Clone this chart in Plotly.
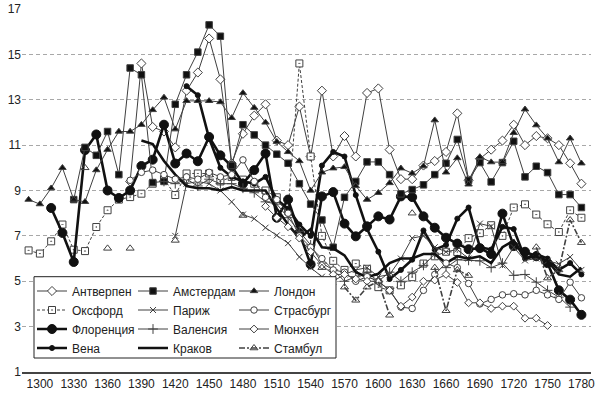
import plotly.graph_objects as go

N = None
years = list(range(1290, 1790, 10))
tick_years = list(range(1300, 1790, 30))
y_ticks = [1, 3, 5, 7, 9, 11, 13, 15, 17]

antwerp = [N]*9 + [9.4, 14.6, 11.8, 11.6, 10.9, 13.4, 14.2, 15.7, 13.9, 10.2,
                   11.5, 12.3, 12.8, 11.2, 11.0, 12.7, 10.5, 13.4, 10.5, 11.4,
                   10.5, 13.3, 13.5, 10.8, 9.5, 9.5, 10.1, 10.3, 10.7, 12.4,
                   9.45, 10.4, 10.8, 11.2, 11.9, 11.0, 11.4, 11.3, 11.0, 10.2, 9.3]
amsterdam = [N]*4 + [8.6, 10.9, 10.55, 11.6, 9.7, 14.4, 14.1, 9.35, 9.4, 12.8,
                     14.1, 15.1, 16.3, 15.8, 10.1, 11.9, 11.45, 11.0, 10.6, 10.2,
                     9.3, 8.4, 7.7, 6.5, 8.7, 9.4, 10.26, 10.26, 9.7, 8.85,
                     9.04, 9.25, 9.7, 10.2, 11.25, 9.45, 10.23, 9.38, 10.23, 11.17,
                     9.6, 10.07, 9.79, 8.82, 8.82, 8.25]
london = [8.6, 8.4, 9.1, 10.0, 8.6, 8.5, 9.9, 10.8, 11.6, 11.6,
          11.9, 12.55, 13.1, 11.7, 12.95, 12.95, 12.95, 12.9, 12.2, 13.3,
          12.65, 12.0, 11.15, 10.7, 10.3, 9.0, 9.8, 9.98, 10.04, 9.2,
          8.6, 8.9, 9.33, 9.98, 9.76, 10.07, 12.1, 9.8, 10.43, 9.27,
          10.48, 10.25, 10.25, 11.54, 12.58, 11.88, 11.3, 10.25, 11.3, 10.2]
oxford = [6.36, 6.22, 6.76, 7.5, 6.39, 6.33, 7.39, 8.13, 8.6, 8.71,
          8.86, 9.3, 9.5, 8.8, 9.75, 9.75, 9.75, 9.4, 9.6, 9.48,
          9.3, 9.0, 8.7, 8.1, 14.6, 10.5, 7.0, 5.9, 5.5, 5.78,
          5.55, 4.74, 4.6, 4.82, 5.18, 5.78, 6.1, 6.3, 6.29, 6.9,
          7.12, 7.47, 7.0, 8.25, 8.39, 7.94, 7.51, 7.17, 8.13, 7.8]
paris = [N]*13 + [7.0, 9.3, 9.4, 9.3, 9.0, 8.5, 7.94, 7.76, 7.36, 7.02,
                  6.68, 6.07, 5.6, 5.2, 5.0, 5.3, 5.5, 5.6, 5.2, 5.3,
                  6.0, 6.9, 7.0, 6.5, 6.3, 6.4, 6.0, 7.54, 7.42, 5.7,
                  6.5, 5.92, 6.0, 5.9, 5.77, 6.07, 5.5]
strasbourg = [N]*9 + [9.45, 9.8, 9.9, 9.7, 9.5, 9.6, 9.5, 9.8, 9.6, 9.7,
                      10.35, 9.4, 8.7, 8.6, 8.0, 7.0, 6.5, 6.0, 5.5, 5.4,
                      5.0, 5.2, 5.0, 4.6, 3.86, 3.8, 4.6, 5.3, 5.8, 5.6,
                      4.9, 4.0, 4.2, 4.4, 4.45, 4.4, 4.6, 4.4, 4.2, 4.96, 4.27]
florence = [N]*2 + [8.23, 7.13, 5.85, 10.78, 11.47, 9.0, 8.67, 9.0, 10.08, 10.36,
                    11.9, 10.19, 10.63, 10.29, 11.36, 10.55, 10.08, 9.3, 9.9, 10.63,
                    7.8, 8.6, 7.13, 5.74, 8.74, 8.93, 7.54, 6.98, 7.42, 7.86,
                    7.72, 8.74, 8.71, 7.86, 7.36, 6.92, 6.66, 6.41, 6.46, 6.2,
                    7.98, 6.55, 6.3, 6.1, 5.8, 4.6, 4.19, 3.52]
valencia = [N]*12 + [9.4, 9.3, 9.5, 9.2, 9.5, 9.3, 9.3, 9.1, 8.9, 8.5,
                     8.4, 7.8, 7.2, 6.6, 5.8, 5.5, 5.0, 5.2, 5.4, 5.0,
                     5.4, 5.0, 5.4, 5.7, 6.2, 5.6, 5.95, 5.92, 5.9, 5.6,
                     5.8, 5.26, 5.3, 4.96, 4.6, 4.3, 3.86] + [N]
munich = [N]*21 + [8.3, 7.8, 7.4, 6.9, 6.3, 5.7, 5.3, 5.3, 5.1, 5.0,
                   5.0, 4.6, 3.9, 4.3, 5.0, 5.05, 5.3, 4.95, 4.05, 4.05,
                   3.8, 3.9, 3.9, 3.37, 3.37, 3.05] + [N]*3
vienna = [N]*14 + [13.6, 13.2, 11.3, 10.0, 9.6, 9.4, 9.3, 9.6, 8.6, 8.2,
                   7.5, 7.0, 10.1, 10.7, 10.5, 8.8, 7.3, 6.3, 5.1, 5.5,
                   5.95, 7.24, 6.39, 6.6, 7.76, 8.25, 6.5, 6.4, 7.4, 7.3,
                   6.0, 6.2, 6.0, 5.5, 5.8, 5.3]
krakow = [N]*10 + [11.2, 11.05, 10.3, 9.7, 9.2, 9.1, 9.1, 9.0, 9.15, 9.0,
                   9.0, 9.0, 8.2, 7.5, 6.9, 7.3, 6.5, 6.45, 6.14, 5.4,
                   5.18, 5.33, 5.8, 6.0, 6.0, 6.2, 6.2, 5.8, 6.1, 6.0,
                   6.1, 5.8, 6.5, 6.8, 6.0, 6.1, 5.9, 5.3, 5.2, 5.6]
istanbul = [N, N, N, N, N, 10.0, N, 6.45, N, 6.45,
            N, N, N, 6.8, N, N, N, N, N, 7.9,
            N, N, N, N, N, N, 5.6, N, 4.74, 4.16,
            4.74, 5.0, 3.5, N, 8.0, N, 5.6, 3.7, 5.5, 5.25,
            N, N, N, N, N, 6.5, 5.14, 5.5, 7.7, 6.7]

THIN = "#404040"
DARK = "#111111"

series = [
    # name, values, legend, line width, dash, symbol, size, fill
    ("Антверпен", antwerp, "legend", 1, "solid", "diamond", 7, "white"),
    ("Оксфорд", oxford, "legend", 1, "3px,2px", "square-dot", 7, "white"),
    ("Флоренция", florence, "legend", 2.6, "solid", "circle", 9, DARK),
    ("Вена", vienna, "legend", 2.6, "solid", "circle", 5, DARK),
    ("Амстердам", amsterdam, "legend2", 1, "solid", "square", 6.5, DARK),
    ("Париж", paris, "legend2", 1, "solid", "x-thin", 6, THIN),
    ("Валенсия", valencia, "legend2", 1, "solid", "cross-thin", 7, THIN),
    ("Краков", krakow, "legend2", 2.6, "solid", None, 0, DARK),
    ("Лондон", london, "legend3", 1, "solid", "triangle-up", 6.5, DARK),
    ("Страсбург", strasbourg, "legend3", 1, "solid", "circle", 6.5, "white"),
    ("Мюнхен", munich, "legend3", 1, "solid", "diamond", 6, "white"),
    ("Стамбул", istanbul, "legend3", 1.6, "6px,2px,2px,2px", "triangle-up-open", 7, THIN),
]

fig = go.Figure()
for name, vals, leg, lw, dash, sym, size, fill in series:
    color = DARK if lw > 2 else THIN
    if sym is None:
        mode = "lines"
        marker = None
    else:
        mode = "lines+markers"
        if sym in ("x-thin", "cross-thin", "triangle-up-open"):
            marker = dict(symbol=sym, size=size, color=THIN,
                          line=dict(color=THIN, width=1))
        else:
            marker = dict(symbol=sym, size=size, color=fill,
                          line=dict(color=color if fill != "white" else THIN, width=1))
    fig.add_trace(go.Scatter(
        x=years, y=vals, name=name, mode=mode, legend=leg,
        line=dict(color=color, width=lw, dash=dash),
        marker=marker, connectgaps=False,
    ))

W, H = 600, 396
ml, mr, mt, mb = 22, 9, 9, 24
pw, ph = W - ml - mr, H - mt - mb

def px_x(p):
    return (p - ml) / pw

def px_y(p):
    return (H - mb - p) / ph

font = dict(family="Liberation Sans, Arial, sans-serif", size=12, color="#222")
legend_common = dict(orientation="v", xanchor="left", yanchor="top",
                     bgcolor="rgba(0,0,0,0)", borderwidth=0, font=font,
                     itemwidth=30, tracegroupgap=0, y=px_y(276.5))

fig.update_layout(
    width=W, height=H,
    margin=dict(l=ml, r=mr, t=mt, b=mb, autoexpand=False),
    paper_bgcolor="white", plot_bgcolor="white",
    font=font,
    legend=dict(**legend_common, x=px_x(32)),
    legend2=dict(**legend_common, x=px_x(133)),
    legend3=dict(**legend_common, x=px_x(234)),
    shapes=[dict(type="rect", xref="paper", yref="paper",
                 x0=px_x(34), x1=px_x(336), y0=px_y(358), y1=px_y(276.7),
                 line=dict(color="#222", width=1), fillcolor="white", layer="above")],
    xaxis=dict(range=[1284.15, 1788.5], tickvals=tick_years, showgrid=False,
               showline=True, linecolor="#444", linewidth=1.5, ticks="",
               zeroline=False, tickfont=font, automargin=False,
               ticklabeloverflow="allow"),
    yaxis=dict(range=[1, 17], tickvals=y_ticks, showgrid=True,
               gridcolor="#a8a8a8", gridwidth=1, griddash="4px,3px",
               showline=False, ticks="", zeroline=False, tickfont=font,
               automargin=False),
)

fig.write_html("out.html", config={"displayModeBar": False},
               post_script="document.body.style.margin='0';")
